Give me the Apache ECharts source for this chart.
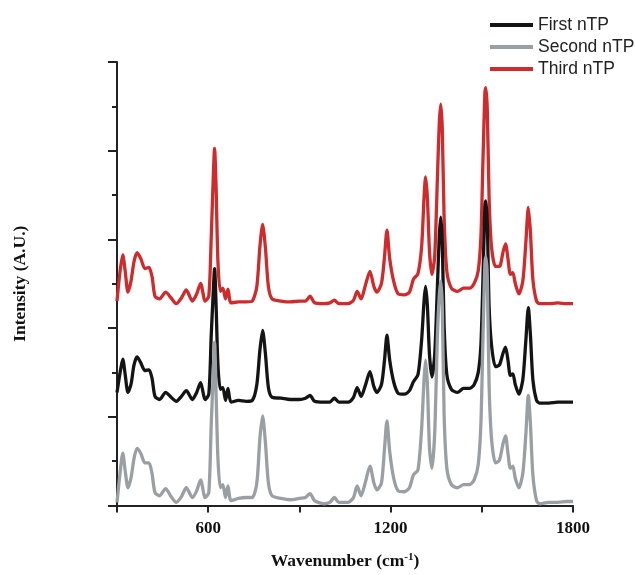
<!DOCTYPE html>
<html>
<head>
<meta charset="utf-8">
<script src="https://cdn.jsdelivr.net/npm/echarts@6/dist/echarts.min.js"></script>
<style>
html, body { margin: 0; padding: 0; background: #fff; }
#chartmain { width: 635px; height: 575px; }
</style>
</head>
<body>
<div id="chartmain"></div>
<script>
// wavenumber (cm-1), shared by the three spectra
var wavenumber = [300, 310, 319, 327, 336, 346, 356, 366, 378, 392, 405, 415, 425, 440, 460, 478, 495, 512, 528, 548,
	562, 575, 590, 602, 610, 616, 621, 626, 632, 640, 648, 657, 665, 675, 700, 725, 745, 760, 770, 779,
	788, 798, 810, 840, 870, 900, 920, 935, 950, 980, 1000, 1015, 1030, 1060, 1078, 1090, 1103, 1118, 1132, 1145,
	1155, 1170, 1180, 1188, 1197, 1210, 1225, 1245, 1262, 1275, 1290, 1302, 1310, 1315, 1321, 1328, 1336, 1345, 1354, 1360,
	1365, 1370, 1376, 1385, 1400, 1420, 1440, 1460, 1475, 1488, 1497, 1504, 1510, 1513, 1518, 1524, 1532, 1545, 1558, 1570,
	1578, 1586, 1594, 1602, 1610, 1622, 1635, 1645, 1653, 1660, 1668, 1680, 1690, 1720, 1750, 1780, 1800];

var firstNTP = [25.5, 29.9, 33.0, 29.5, 25.5, 27.3, 31.7, 33.5, 32.2, 30.4, 30.6, 28.8, 24.6, 23.9, 25.5, 24.4, 23.5, 24.6, 25.9, 23.9,
	25.5, 27.7, 23.9, 25.1, 38.4, 47.2, 53.4, 45.0, 31.7, 26.2, 26.6, 23.7, 26.4, 23.3, 23.7, 23.5, 23.7, 27.3, 35.0, 39.5,
	34.4, 26.6, 24.4, 24.2, 23.9, 23.9, 24.2, 24.8, 23.5, 23.3, 23.3, 24.2, 23.3, 23.3, 24.4, 26.6, 24.6, 27.3, 30.2, 26.8,
	25.5, 27.3, 32.8, 38.4, 32.8, 27.9, 25.3, 25.1, 25.9, 27.9, 29.5, 37.3, 46.1, 49.4, 45.0, 33.9, 29.0, 33.9, 49.4, 60.5,
	65.0, 59.4, 40.6, 29.5, 26.2, 25.5, 26.4, 26.4, 27.3, 29.9, 36.1, 51.7, 67.2, 68.7, 63.9, 45.0, 36.1, 31.3, 31.7, 34.4,
	35.7, 32.8, 29.3, 29.7, 27.3, 25.1, 28.4, 37.3, 44.6, 38.4, 28.4, 23.7, 23.1, 23.1, 23.3, 23.3, 23.3];

var secondNTP = [0.7, 7.3, 11.8, 7.8, 4.0, 6.2, 10.6, 12.9, 11.8, 9.6, 9.6, 7.3, 2.9, 2.2, 3.8, 2.0, 0.7, 2.0, 4.0, 1.8,
	3.3, 5.8, 1.8, 2.9, 18.4, 28.4, 36.8, 25.1, 10.6, 4.0, 4.7, 1.8, 4.4, 1.1, 1.6, 1.8, 1.8, 5.1, 15.1, 20.2,
	14.4, 5.1, 2.2, 1.6, 1.3, 1.6, 1.8, 2.7, 1.1, 0.4, 0.7, 1.8, 0.7, 0.7, 1.8, 4.4, 2.2, 5.5, 8.9, 5.1,
	3.5, 5.1, 12.9, 19.1, 12.2, 6.2, 3.3, 3.1, 4.0, 6.9, 8.0, 17.3, 28.4, 32.8, 27.3, 12.9, 8.4, 16.2, 38.4, 47.2,
	50.6, 45.0, 20.6, 8.4, 4.7, 4.0, 4.7, 4.7, 5.8, 9.1, 18.4, 38.4, 54.3, 56.1, 51.7, 27.3, 15.1, 9.6, 10.2, 14.0,
	15.7, 11.8, 8.4, 8.9, 6.2, 4.0, 7.3, 16.2, 24.8, 18.4, 6.9, 1.1, 0.4, 0.7, 0.7, 0.9, 0.9];

var thirdNTP = [46.1, 52.8, 56.5, 52.8, 48.1, 50.6, 55.0, 57.0, 55.7, 53.4, 53.7, 51.7, 47.2, 46.6, 48.1, 46.8, 45.5, 46.8, 48.6, 46.1,
	47.7, 50.1, 46.1, 47.2, 60.5, 72.7, 80.5, 71.6, 55.0, 48.3, 49.0, 46.6, 48.8, 45.7, 45.9, 45.9, 46.1, 49.4, 58.3, 63.4,
	58.3, 49.4, 46.6, 46.1, 45.9, 46.1, 46.1, 47.2, 45.7, 45.5, 45.7, 46.3, 45.5, 45.5, 46.3, 48.3, 46.6, 49.9, 52.8, 49.4,
	48.1, 50.1, 56.1, 62.1, 55.7, 50.6, 47.7, 47.5, 48.1, 51.0, 52.3, 58.3, 69.4, 74.1, 69.4, 57.2, 52.1, 56.1, 73.8, 86.0,
	90.5, 84.9, 65.0, 52.8, 49.0, 48.3, 49.0, 49.0, 50.1, 52.8, 60.5, 78.3, 92.7, 94.2, 89.4, 69.4, 58.3, 53.9, 53.9, 57.2,
	59.0, 55.7, 52.1, 52.5, 50.1, 47.7, 50.6, 59.4, 67.2, 61.6, 51.0, 46.1, 45.5, 45.5, 45.7, 45.5, 45.5];

var xTicks = [600, 1200, 1800];

function pairs(ys) {
	var out = [];
	for (var i = 0; i < wavenumber.length; i++) {
		out.push([wavenumber[i], ys[i]]);
	}
	return out;
}

var serif = '"Liberation Serif", "Times New Roman", serif';

function lineSeries(name, color, ys) {
	return {
		name : name,
		type : 'line',
		data : pairs(ys),
		showSymbol : false,
		smooth : 0.25,
		color : color,
		lineStyle : { width : 3.3, color : color },
		emphasis : { disabled : true }
	};
}

var option = {
	animation : false,
	backgroundColor : '#fff',
	legend : {
		orient : 'vertical',
		left : 490,
		top : 16,
		padding : 0,
		itemWidth : 43,
		itemHeight : 4,
		itemGap : 4,
		icon : 'rect',
		data : [ 'First nTP', 'Second nTP', 'Third nTP' ],
		textStyle : {
			fontFamily : '"Liberation Sans", Arial, sans-serif',
			fontSize : 17.5,
			color : '#222'
		}
	},
	grid : {
		left : 117,
		right : 62,
		top : 62,
		bottom : 62
	},
	xAxis : {
		type : 'value',
		min : 300,
		max : 1800,
		interval : 300,
		name : 'Wavenumber (cm{sup|-1})',
		nameLocation : 'middle',
		nameGap : 46,
		nameTextStyle : {
			fontFamily : serif,
			fontWeight : 'bold',
			fontSize : 17.5,
			color : '#111',
			rich : {
				sup : {
					fontFamily : serif,
					fontWeight : 'bold',
					fontSize : 11,
					color : '#111',
					verticalAlign : 'top',
					padding : [ 0, 0, 8, 0 ]
				}
			}
		},
		splitLine : { show : false },
		axisLine : { lineStyle : { color : '#222', width : 2 } },
		axisTick : { inside : false, length : 7, lineStyle : { color : '#222', width : 2 } },
		axisLabel : {
			margin : 15,
			fontFamily : serif,
			fontWeight : 'bold',
			fontSize : 17,
			color : '#111',
			formatter : function(v) {
				return xTicks.indexOf(v) >= 0 ? String(v) : '';
			}
		}
	},
	yAxis : {
		type : 'value',
		min : 0,
		max : 100,
		interval : 20,
		name : 'Intensity (A.U.)',
		nameLocation : 'middle',
		nameGap : 88,
		nameRotate : 90,
		nameTextStyle : {
			fontFamily : serif,
			fontWeight : 'bold',
			fontSize : 17.5,
			color : '#111'
		},
		splitLine : { show : false },
		axisLine : { show : true, lineStyle : { color : '#222', width : 2 } },
		axisTick : { show : true, inside : false, length : 9, lineStyle : { color : '#222', width : 2 } },
		minorTick : { show : true, splitNumber : 2, length : 5, lineStyle : { color : '#222', width : 2 } },
		axisLabel : { show : false }
	},
	// red drawn first, grey last, as in the original figure
	series : [
		lineSeries('Third nTP', '#cf2a2c', thirdNTP),
		lineSeries('First nTP', '#141414', firstNTP),
		lineSeries('Second nTP', '#9a9fa4', secondNTP)
	]
};

var myChart = echarts.init(document.getElementById('chartmain'));
myChart.setOption(option);
</script>
</body>
</html>
